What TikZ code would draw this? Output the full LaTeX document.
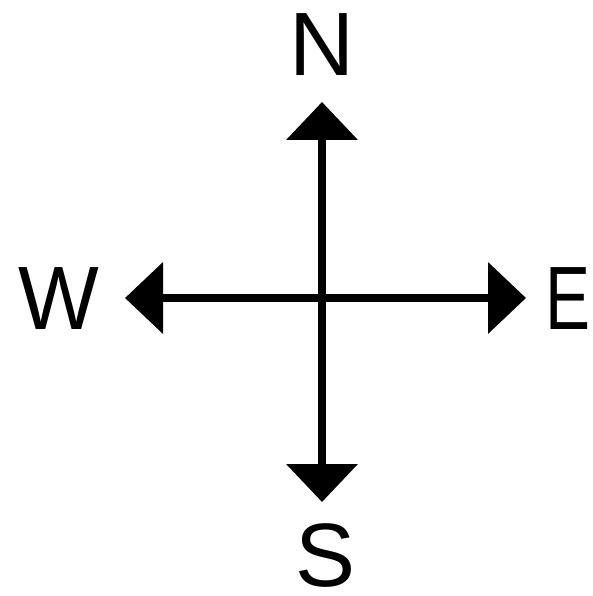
\documentclass[tikz,border=0pt]{standalone}
\usepackage{fontspec}
\setmainfont{Liberation Sans}
\usetikzlibrary{arrows.meta}
\begin{document}
\begin{tikzpicture}[x=1pt,y=-1pt,
  arr/.style={line width=8pt,-{Triangle[length=38pt,width=70pt]}},
  lbl/.style={inner sep=0pt,font=\fontsize{90}{90}\selectfont}]
\useasboundingbox[fill=white] (0,0) rectangle (592,596);
\coordinate (c) at (322,298);
\coordinate (ntip) at (322,102);
\coordinate (stip) at (322,502);
\coordinate (wtip) at (125,298);
\coordinate (etip) at (526,298);
\draw[arr] (c) -- (ntip);
\draw[arr] (c) -- (stip);
\draw[arr] (c) -- (wtip);
\draw[arr] (c) -- (etip);
\node[lbl] (N) at (322,45) {N};
\node[lbl] (S) at (326,556) {S};
\node[lbl,xscale=0.95] (W) at (59,299) {W};
\node[lbl,xscale=0.75] (E) at (568,299) {E};
\end{tikzpicture}
\end{document}
